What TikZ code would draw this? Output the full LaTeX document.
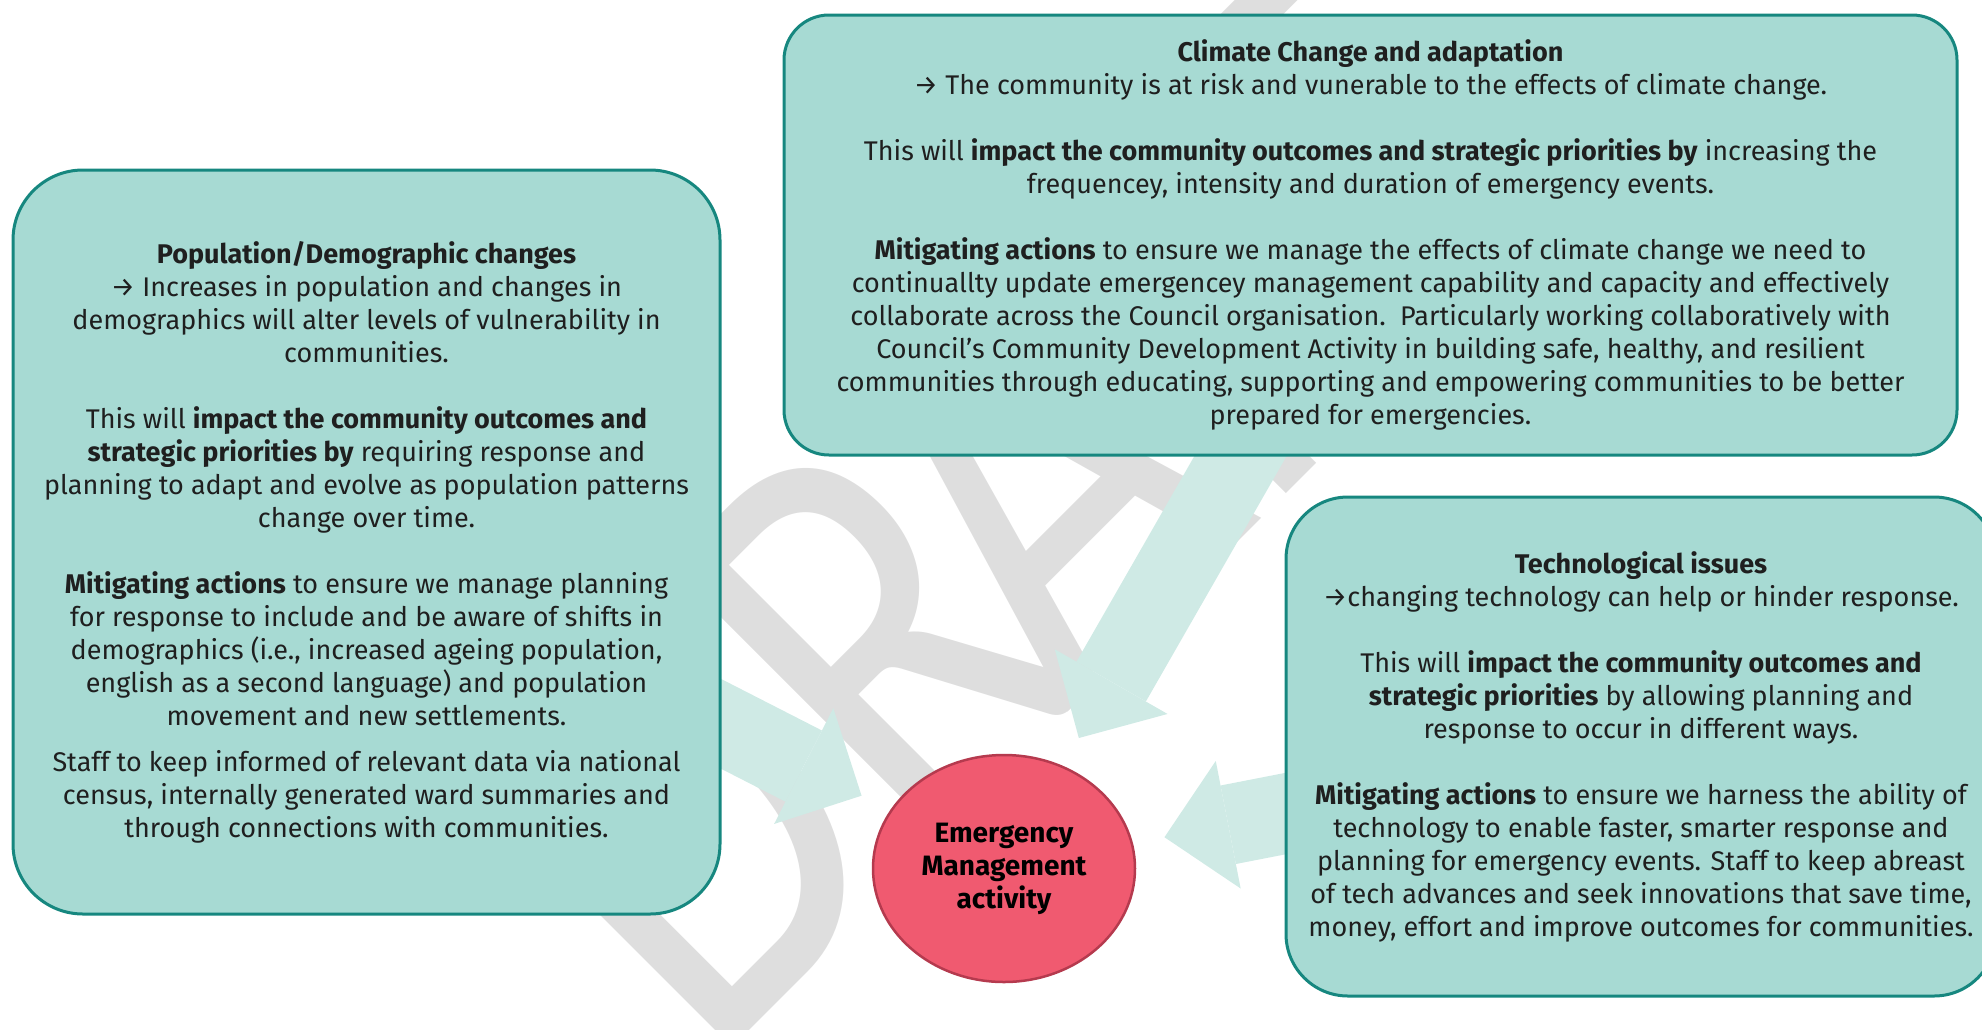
\documentclass[tikz,border=0pt]{standalone}
\usepackage{fontspec}
\setmainfont{Fira Sans}
\newfontfamily\wmfont{Carlito}
\usetikzlibrary{arrows.meta,shapes.geometric}
\definecolor{cardfill}{HTML}{A7DAD3}
\definecolor{cardline}{HTML}{16877F}
\definecolor{flowfill}{HTML}{CFEAE5}
\definecolor{hubfill}{HTML}{F05A70}
\definecolor{hubline}{HTML}{B53A4E}
\definecolor{wmgrey}{HTML}{DEDEDE}
\pgfdeclarelayer{back}
\pgfdeclarelayer{mid}
\pgfsetlayers{back,mid,main}
\newcommand{\goarrow}{→}

\begin{document}
\begin{tikzpicture}[x=1pt, y=-1pt, card/.style={draw=cardline, fill=cardfill, line width=3pt, rounded corners=#1, align=center, inner sep=0pt, text=black!88, font=\fontsize{27}{33}\selectfont}, card/.default=60pt, hub/.style={ellipse, draw=hubline, fill=hubfill, line width=2.5pt, inner sep=0pt, align=center, font=\bfseries\fontsize{28}{33}\selectfont}, flow/.style={draw=flowfill, line width=80pt, -{Triangle[length=65pt, width=130pt, line width=0pt]}, shorten >=32pt}, wmark/.style={text=wmgrey, inner sep=0pt, font=\wmfont\fontsize{480}{480}\selectfont}]
            \useasboundingbox (0,0) rectangle (1982,1029);
            % boxes
            \node[card=70pt, minimum width=707pt, minimum height=744pt] (pop) at (366.5,542) {\textbf{Population/Demographic changes}\\
                \goarrow{} Increases in population and changes in\\
                demographics will alter levels of vulnerability in\\
                communities.\\[33pt]
                This will \textbf{impact the community outcomes and}\\
                \textbf{strategic priorities by} requiring response and\\
                planning to adapt and evolve as population patterns\\
                change over time.\\[33pt]
                \textbf{Mitigating actions} to ensure we manage planning\\
                for response to include and be aware of shifts in\\
                demographics (i.e., increased ageing population,\\
                english as a second language) and population\\
                movement and new settlements.\\[13pt]
                Staff to keep informed of relevant data via national\\
                census, internally generated ward summaries and\\
                through connections with communities.};
            \node[card=45pt, minimum width=1173pt, minimum height=440pt] (climate) at (1370.5,235) {\textbf{Climate Change and adaptation}\\
                \goarrow{} The community is at risk and vunerable to the effects of climate change.\\[33pt]
                This will \textbf{impact the community outcomes and strategic priorities by} increasing the\\
                frequencey, intensity and duration of emergency events.\\[33pt]
                \textbf{Mitigating actions} to ensure we manage the effects of climate change we need to\\
                continuallty update emergencey management capability and capacity and effectively\\
                collaborate across the Council organisation.\ \ Particularly working collaboratively with\\
                Council’s Community Development Activity in building safe, healthy, and resilient\\
                communities through educating, supporting and empowering communities to be better\\
                prepared for emergencies.};
            \node[card=62pt, minimum width=710pt, minimum height=499pt] (tech) at (1641,746.5) {\textbf{Technological issues}\\
                \goarrow changing technology can help or hinder response.\\[33pt]
                This will \textbf{impact the community outcomes and}\\
                \textbf{strategic priorities} by allowing planning and\\
                response to occur in different ways.\\[33pt]
                \textbf{Mitigating actions} to ensure we harness the ability of\\
                technology to enable faster, smarter response and\\
                planning for emergency events. Staff to keep abreast\\
                of tech advances and seek innovations that save time,\\
                money, effort and improve outcomes for communities.};
            \node[hub, minimum width=262pt, minimum height=227pt] (ema) at (1004,868.5) {Emergency\\ Management\\ activity};
            % arrow tails
            \coordinate (popout) at (694,710);
            \coordinate (climateout) at (1256,429);
            \coordinate (techout) at (1314,808);
            % arrows
            \begin{pgfonlayer}{mid}
                \draw[flow] (popout) -- (ema);
                \draw[flow] (climateout) -- (ema);
                \draw[flow] (techout) -- (ema);
            \end{pgfonlayer}
            % watermark
            \begin{pgfonlayer}{back}
                \node[wmark, rotate=45, yscale=1.25, anchor=base west] (draft) at (709,1071) {DR\kern-50pt AFT};
            \end{pgfonlayer}
        \end{tikzpicture}
\end{document}
